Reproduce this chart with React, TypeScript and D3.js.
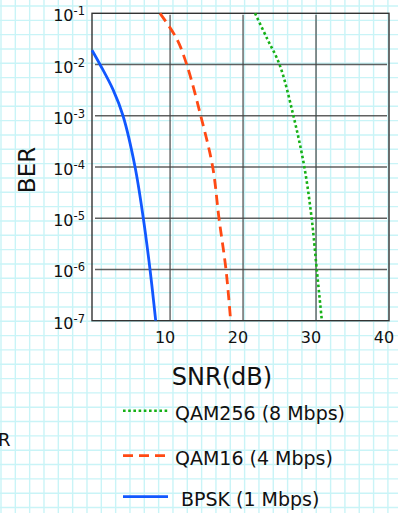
import React from 'react';
import * as d3 from 'd3';

const width = 398;
const height = 513;

// BER curves (SNR in dB, BER)
const bpskSnr = [-0.7, 0.4, 2.2, 3.55, 5.2, 6.33, 7.25, 8.03];
const bpskBer = [0.019, 1e-2, 3.2e-3, 1e-3, 1e-4, 1e-5, 1e-6, 1e-7];
const qam16Snr = [8.62, 10.9, 12.28, 14.2, 15.84, 16.7, 17.66, 18.3];
const qam16Ber = [1e-1, 3.2e-2, 1e-2, 1e-3, 1e-4, 1e-5, 1e-6, 1e-7];
const qam256Snr = [21.64, 23.3, 25.0, 26.9, 28.4, 29.4, 30.1, 30.8];
const qam256Ber = [1e-1, 3.2e-2, 1e-2, 1e-3, 1e-4, 1e-5, 1e-6, 1e-7];

const xTicks = [10, 20, 30, 40];
const yExponents = [-1, -2, -3, -4, -5, -6, -7];

const legendLabels = ['QAM256 (8 Mbps)', 'QAM16 (4 Mbps)', 'BPSK (1 Mbps)'];

const x = d3.scaleLinear().domain([-0.7, 40]).range([92, 389]);
const y = d3.scaleLog().domain([1e-7, 1e-1]).range([320.7, 13.3]);

const series = [
  { snr: qam256Snr, ber: qam256Ber, color: '#16b016', dash: '2.6,2.6', width: 2.6 },
  { snr: qam16Snr, ber: qam16Ber, color: '#ff4a14', dash: '10,6', width: 2.8 },
  { snr: bpskSnr, ber: bpskBer, color: '#1158ff', dash: null, width: 2.8 },
];

// background graph paper
const paperStep = 14.33;
const paperX = d3.range(1, width + 1, paperStep);
const paperY = d3.range(6, height + 1, paperStep);

export default function App() {
  const line = d3
    .line<[number, number]>()
    .x(d => x(d[0]))
    .y(d => y(d[1]))
    .curve(d3.curveCatmullRom.alpha(0.5));

  const legendY = [410.7, 455.7, 496.7];
  const legendTextX = [175, 175, 181];

  return (
    <svg
      width={width}
      height={height}
      style={{ position: 'absolute', left: 0, top: 0, background: '#fff' }}
      fontFamily="DejaVu Sans, Verdana, sans-serif"
    >
      <g stroke="#c9f4f7" strokeWidth="1.4">
        {paperX.map((px, i) => (
          <line key={'px' + i} x1={px} x2={px} y1={0} y2={height} />
        ))}
        {paperY.map((py, i) => (
          <line key={'py' + i} x1={0} x2={width} y1={py} y2={py} />
        ))}
      </g>

      {/* plot grid */}
      <g stroke="#444" strokeOpacity="0.85" strokeWidth="1.4">
        {yExponents.slice(1, -1).map(e => (
          <line key={e} x1={95} x2={387} y1={y(Math.pow(10, e))} y2={y(Math.pow(10, e))} />
        ))}
        {xTicks.slice(0, -1).map(t => (
          <line key={t} x1={x(t)} x2={x(t)} y1={y(1e-1) + 1.5} y2={y(1e-7)} />
        ))}
      </g>
      <rect
        x={x(-0.7)}
        y={y(1e-1)}
        width={x(40) - x(-0.7)}
        height={y(1e-7) - y(1e-1)}
        fill="none"
        stroke="#333"
        strokeWidth="1.4"
      />

      {/* curves */}
      {series.map((s, i) => (
        <path
          key={i}
          d={line(s.snr.map((v, j) => [v, s.ber[j]] as [number, number])) || ''}
          fill="none"
          stroke={s.color}
          strokeWidth={s.width}
          strokeDasharray={s.dash || undefined}
        />
      ))}

      {/* y tick labels */}
      {yExponents.map(e => (
        <text key={e} x={85} y={y(Math.pow(10, e)) + 8} textAnchor="end" fontSize="16" fill="#111">
          10
          <tspan fontSize="11.5" dy="-6">{e}</tspan>
        </text>
      ))}

      {/* x tick labels */}
      {xTicks.map(t => (
        <text key={t} x={x(t) - 5} y={343} textAnchor="middle" fontSize="16" fill="#111">
          {t}
        </text>
      ))}

      <text x={222} y={385} textAnchor="middle" fontSize="24" fill="#111">
        SNR(dB)
      </text>
      <text transform="translate(35,170) rotate(-90)" textAnchor="middle" fontSize="23" fill="#111">
        BER
      </text>

      {/* legend */}
      {series.map((s, i) => (
        <g key={i}>
          <line
            x1={123}
            x2={168}
            y1={legendY[i]}
            y2={legendY[i]}
            stroke={s.color}
            strokeWidth={s.width}
            strokeDasharray={s.dash || undefined}
          />
          <text x={legendTextX[i]} y={legendY[i] + 9} fontSize="19" fill="#111">
            {legendLabels[i]}
          </text>
        </g>
      ))}

      {/* leftover letter at the left edge, cut as in the source picture */}
      <text x={-2} y={446} fontSize="18" fill="#111">
        R
      </text>
    </svg>
  );
}
